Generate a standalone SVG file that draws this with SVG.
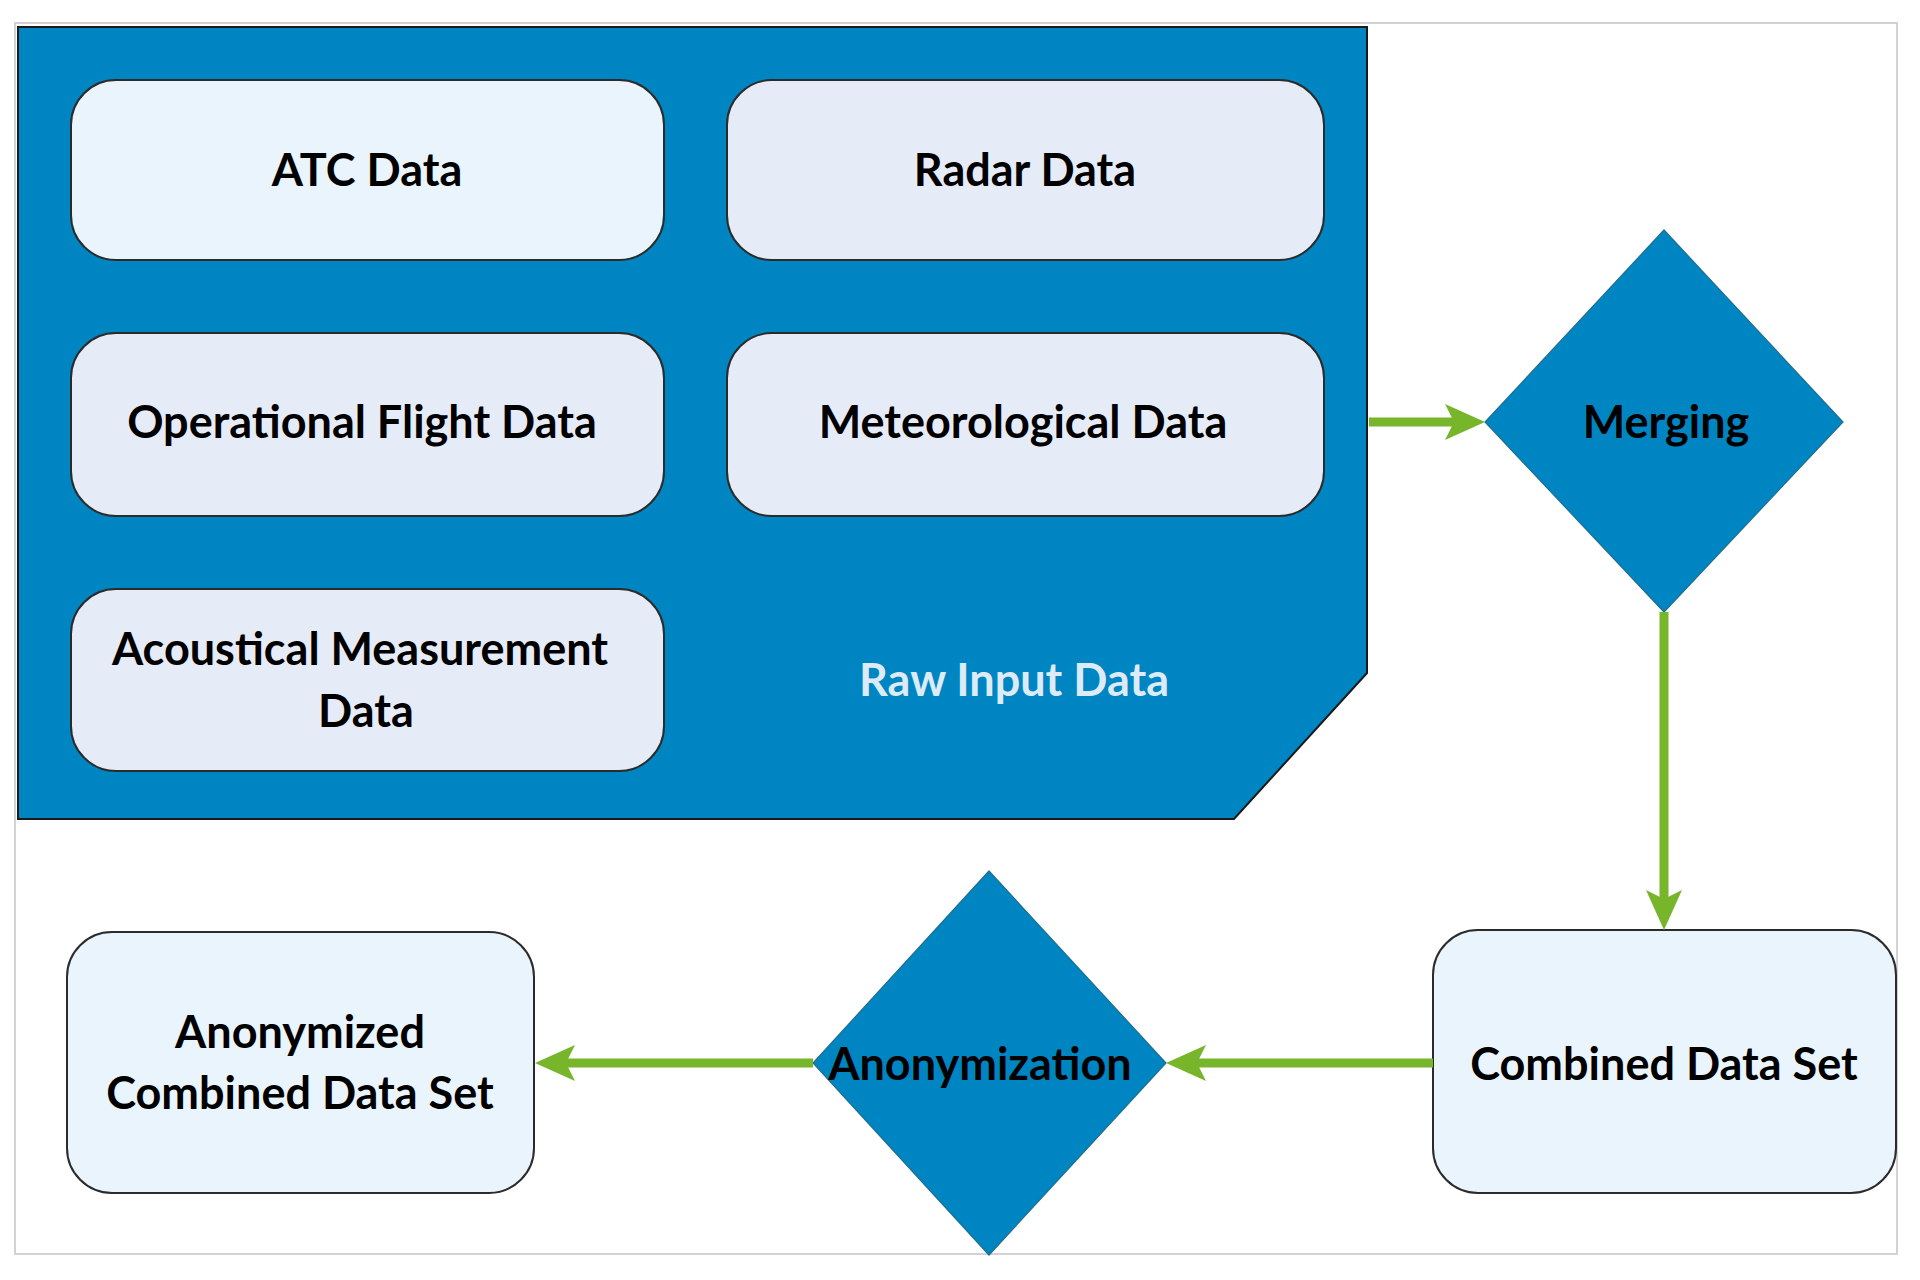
<svg xmlns="http://www.w3.org/2000/svg" width="1920" height="1280" viewBox="0 0 1920 1280">
<style>
.box{stroke:#2b2b2b;stroke-width:2}
.b1{fill:#EAF4FC}
.b2{fill:#E6ECF7}
.dia{fill:#0085C3;stroke:#1d6f8f;stroke-width:1.2}
.t{font-family:Lato,"Open Sans","Liberation Sans",sans-serif;font-weight:bold;font-size:45px;fill:#000;text-anchor:middle}
.w{fill:#DDEBF7}
.conn{stroke:#77B52A;stroke-width:9;fill:none}
</style>
<defs>
<marker id="ah" viewBox="0 0 40 36" refX="9" refY="18" markerWidth="40" markerHeight="36" markerUnits="userSpaceOnUse" orient="auto">
<path d="M0,0 L40,18 L0,36 L9,18 Z" fill="#77B52A"/>
</marker>
</defs>
<rect width="1920" height="1280" fill="#fff"/>
<rect x="15" y="23" width="1882" height="1231" fill="none" stroke="#d2d2d2" stroke-width="2"/>
<g id="raw-input">
<path d="M18,27 L1367,27 L1367,673 L1234,819 L18,819 Z" fill="#0085C3" stroke="#1a1a1a" stroke-width="2"/>
<text class="t w" x="1014" y="696">Raw Input Data</text>
</g>
<g id="atc"><rect class="box b1" x="71" y="80" width="593" height="180" rx="45"/><text class="t" x="367" y="186">ATC Data</text></g>
<g id="radar"><rect class="box b2" x="727" y="80" width="597" height="180" rx="45"/><text class="t" x="1025" y="186">Radar Data</text></g>
<g id="operational"><rect class="box b2" x="71" y="333" width="593" height="183" rx="45"/><text class="t" x="362" y="438">Operational Flight Data</text></g>
<g id="meteorological"><rect class="box b2" x="727" y="333" width="597" height="183" rx="45"/><text class="t" x="1023" y="438">Meteorological Data</text></g>
<g id="acoustical"><rect class="box b2" x="71" y="589" width="593" height="182" rx="45"/><text class="t" x="360" y="665">Acoustical Measurement</text><text class="t" x="366" y="727">Data</text></g>
<g id="merging"><polygon class="dia" points="1664,230 1843,422 1664,612 1485,422"/><text class="t" x="1666" y="438">Merging</text></g>
<g id="combined"><rect class="box b1" x="1433" y="930" width="463" height="263" rx="45"/><text class="t" x="1664" y="1080">Combined Data Set</text></g>
<g id="anonymization"><polygon class="dia" points="989,871 1166,1063 989,1255 813,1063"/><text class="t" x="980" y="1080">Anonymization</text></g>
<g id="anonymized"><rect class="box b1" x="67" y="932" width="467" height="261" rx="45"/><text class="t" x="300" y="1048">Anonymized</text><text class="t" x="300" y="1109">Combined Data Set</text></g>
<g id="connectors">
<line class="conn" x1="1369" y1="422" x2="1454" y2="422" marker-end="url(#ah)"/>
<line class="conn" x1="1664" y1="612" x2="1664" y2="899" marker-end="url(#ah)"/>
<line class="conn" x1="1433" y1="1063" x2="1197" y2="1063" marker-end="url(#ah)"/>
<line class="conn" x1="813" y1="1063" x2="566" y2="1063" marker-end="url(#ah)"/>
</g>
</svg>
